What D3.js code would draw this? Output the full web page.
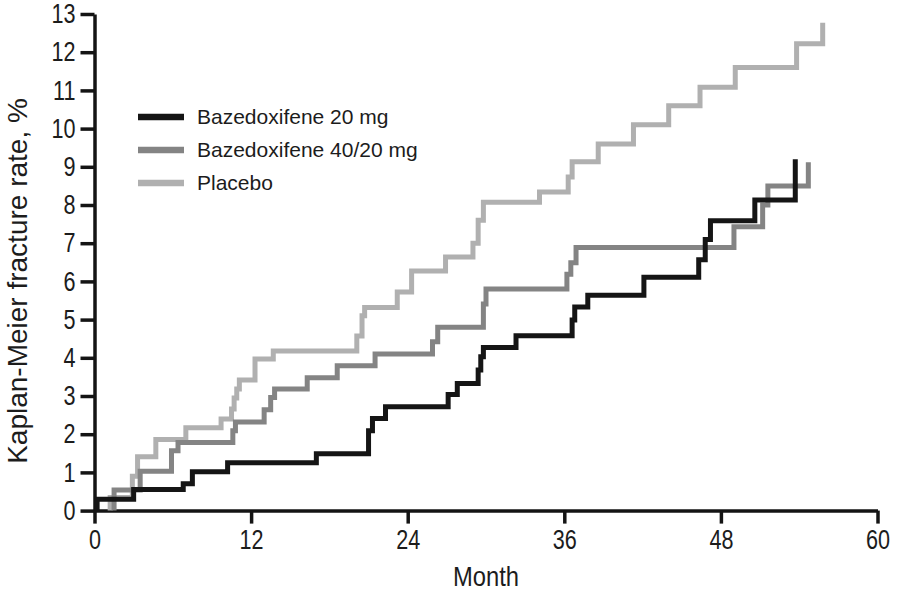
<!DOCTYPE html>
<html>
<head>
<meta charset="utf-8">
<script src="https://cdn.jsdelivr.net/npm/d3@7"></script>
<style>
  body { margin: 0; background: #fff; }
  svg text { font-family: "Liberation Sans", Arial, sans-serif; fill: #1c1c1c; }
</style>
</head>
<body>
<svg id="chart" width="903" height="592"></svg>
<script>
var width = 903;
var height = 592;
var squeeze = 0.8; // the source uses a condensed face

// axis ticks
var xTicks = [0, 12, 24, 36, 48, 60];
var yTicks = [0, 1, 2, 3, 4, 5, 6, 7, 8, 9, 10, 11, 12, 13];

var seriesNames = ["Bazedoxifene 20 mg", "Bazedoxifene 40/20 mg", "Placebo"];
var seriesColors = ["#151515", "#848484", "#b0b0b0"];

// step times (month) and cumulative rate (%) after each step
var bza20Months = [0.2, 0.2, 3.0, 6.8, 7.5, 10.2, 17.0, 21.0, 21.3, 22.3, 27.1, 27.8, 29.4, 29.6, 29.8, 32.3, 36.6, 36.8, 37.8, 42.1, 46.3, 46.8, 47.2, 50.6, 53.7];
var bza20Rates  = [0, 0.30, 0.55, 0.70, 1.02, 1.25, 1.49, 2.09, 2.41, 2.72, 3.04, 3.33, 3.68, 4.03, 4.27, 4.58, 4.99, 5.33, 5.64, 6.11, 6.57, 7.10, 7.59, 8.13, 9.20];

var bza40Months = [1.5, 1.5, 3.5, 5.9, 6.4, 10.6, 10.8, 13.0, 13.5, 13.8, 16.3, 18.6, 21.5, 25.9, 26.3, 29.8, 30.0, 36.2, 36.5, 36.9, 49.0, 51.2, 51.6, 54.7];
var bza40Rates  = [0, 0.54, 1.03, 1.57, 1.78, 2.09, 2.32, 2.64, 2.96, 3.18, 3.48, 3.79, 4.10, 4.42, 4.80, 5.41, 5.80, 6.19, 6.49, 6.89, 7.43, 8.00, 8.50, 9.12];

var placeboMonths = [1.2, 1.2, 2.9, 3.3, 4.7, 7.0, 9.7, 10.5, 10.7, 10.9, 11.1, 12.3, 13.7, 20.1, 20.5, 20.7, 23.2, 24.3, 26.9, 29.0, 29.4, 29.8, 34.1, 36.3, 36.6, 38.6, 41.3, 44.0, 46.4, 49.1, 53.8, 55.8];
var placeboRates  = [0, 0.34, 0.90, 1.41, 1.86, 2.17, 2.40, 2.66, 2.95, 3.18, 3.42, 3.97, 4.18, 4.57, 5.10, 5.32, 5.72, 6.27, 6.64, 7.00, 7.60, 8.07, 8.34, 8.73, 9.13, 9.60, 10.10, 10.60, 11.08, 11.60, 12.22, 12.77];

var allMonths = [bza20Months, bza40Months, placeboMonths];
var allRates = [bza20Rates, bza40Rates, placeboRates];

var svg = d3.select("#chart");

var x = d3.scaleLinear().domain([0, 60]).range([94.5, 877.5]);
var y = d3.scaleLinear().domain([0, 13]).range([510.6, 14]);

/*====================================================================
       axes
    ==================================================================*/
var xAxis = svg.append("g")
    .attr("transform", "translate(0," + y(0) + ")")
    .call(d3.axisBottom(x).tickValues(xTicks).tickSize(13).tickSizeOuter(0).tickPadding(6));

var yAxis = svg.append("g")
    .attr("transform", "translate(" + x(0) + ",0)")
    .call(d3.axisLeft(y).tickValues(yTicks).tickSize(14).tickSizeOuter(0).tickPadding(5));

[xAxis, yAxis].forEach(function (g) {
    g.selectAll("path, line").attr("stroke", "#141414").attr("stroke-width", 3.5);
    g.selectAll("text").style("font-size", "27px").attr("fill", "#2a2a2a")
        .attr("transform", "scale(" + squeeze + ",1)");
});
xAxis.selectAll("text").attr("dy", "0.72em");
// scale() also moves the x position, so undo that for the left labels
yAxis.selectAll("text").attr("x", -19 / squeeze);

svg.append("text")
    .attr("transform", "translate(" + (x(0) + x(60)) / 2 + ",586) scale(0.88,1)")
    .attr("text-anchor", "middle")
    .style("font-size", "27px")
    .text("Month");

svg.append("text")
    .attr("transform", "translate(27,281) rotate(-90)")
    .attr("text-anchor", "middle")
    .style("font-size", "28px")
    .text("Kaplan-Meier fracture rate, %");

/*====================================================================
       step lines
    ==================================================================*/
var line = d3.line()
    .x(function (d) { return x(d[0]); })
    .y(function (d) { return y(d[1]); })
    .curve(d3.curveStepAfter);

// placebo first so the treatment lines sit on top
[2, 1, 0].forEach(function (i) {
    var pts = d3.zip(allMonths[i], allRates[i]);
    svg.append("path")
        .datum(pts)
        .attr("fill", "none")
        .attr("stroke", seriesColors[i])
        .attr("stroke-width", 5)
        .attr("d", line);
});

/*====================================================================
       legend
    ==================================================================*/
var legend = svg.append("g");
seriesNames.forEach(function (name, i) {
    var ly = 117 + i * 33;
    legend.append("line")
        .attr("x1", 138).attr("x2", 184)
        .attr("y1", ly).attr("y2", ly)
        .attr("stroke", seriesColors[i])
        .attr("stroke-width", 6.5);
    legend.append("text")
        .attr("x", 197)
        .attr("y", ly)
        .attr("dy", "0.35em")
        .style("font-size", "21px")
        .text(name);
});
</script>
</body>
</html>
